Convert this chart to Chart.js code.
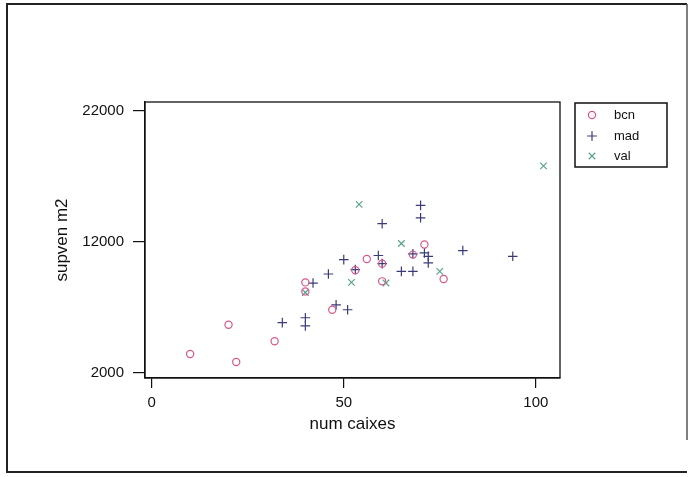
<!DOCTYPE html>
<html>
<head>
<meta charset="utf-8">
<script src="https://cdn.jsdelivr.net/npm/chart.js@4"></script>
<style>
  html, body { margin: 0; padding: 0; background: #fff; }
  #wrap { width: 693px; height: 477px; }
</style>
</head>
<body>
<div id="wrap"><canvas id="c" width="693" height="477"></canvas></div>
<script>
// ---- data ----
const seriesNames = ['bcn', 'mad', 'val'];
const bcnX = [10, 20, 22, 32, 40, 40, 47, 53, 56, 60, 60, 68, 71, 76];
const bcnY = [3450, 5680, 2840, 4430, 8920, 8230, 6830, 9840, 10710, 10350, 9000, 11040, 11810, 9180];
const madX = [34, 40, 40, 42, 46, 48, 50, 51, 53, 59, 60, 60, 65, 68, 68, 70, 70, 71, 72, 72, 81, 94];
const madY = [5850, 6220, 5600, 8870, 9560, 7210, 10660, 6830, 9900, 10970, 13400, 10350, 9760, 9760, 11100, 14800, 13850, 11170, 10910, 10410, 11350, 10910];
const valX = [40, 52, 54, 61, 65, 75, 102];
const valY = [8150, 8920, 14870, 8870, 11890, 9760, 17810];
const xTicks = [0, 50, 100];
const yTicks = [2000, 12000, 22000];
const xTitle = 'num caixes';
const yTitle = 'supven m2';

const colors = ['#d4588c', '#3b3b7a', '#5aa58a'];
const styles = ['circle', 'cross', 'crossRot'];
const radii = [3.6, 4.8, 4.6];

function pts(xs, ys) { return xs.map((x, i) => ({ x: x, y: ys[i] })); }
const allData = [pts(bcnX, bcnY), pts(madX, madY), pts(valX, valY)];

const datasets = seriesNames.map((n, i) => ({
  label: n,
  data: allData[i],
  pointStyle: styles[i],
  pointRadius: radii[i],
  pointHoverRadius: radii[i],
  borderColor: colors[i],
  backgroundColor: 'rgba(0,0,0,0)',
  pointBorderWidth: 1.2,
  showLine: false
}));

const FONT = '"Liberation Sans", Arial, sans-serif';

const framePlugin = {
  id: 'frame',
  beforeDraw(chart) {
    const ctx = chart.ctx;
    ctx.save();
    ctx.fillStyle = '#fff';
    ctx.fillRect(0, 0, chart.width, chart.height);
    ctx.strokeStyle = '#222';
    ctx.lineWidth = 2;
    ctx.beginPath();
    ctx.moveTo(687, 4); ctx.lineTo(7, 4); ctx.lineTo(7, 472); ctx.lineTo(687, 472);
    ctx.stroke();
    ctx.strokeStyle = '#555';
    ctx.lineWidth = 1.5;
    ctx.beginPath();
    ctx.moveTo(687, 4); ctx.lineTo(687, 440);
    ctx.stroke();
    ctx.restore();
  },
  afterDatasetsDraw(chart) {
    const ctx = chart.ctx;
    const a = chart.chartArea;
    ctx.save();
    ctx.strokeStyle = '#111';
    ctx.lineWidth = 1.3;
    ctx.strokeRect(a.left, a.top, a.right - a.left, a.bottom - a.top);
    // legend box
    const lx = 575, ly = 103, lw = 92, lh = 64;
    ctx.strokeStyle = '#111';
    ctx.lineWidth = 1.5;
    ctx.strokeRect(lx, ly, lw, lh);
    ctx.font = '13px ' + FONT;
    ctx.textBaseline = 'middle';
    ctx.textAlign = 'left';
    const rows = [115, 136, 156];
    chart.data.datasets.forEach((ds, i) => {
      ctx.strokeStyle = ds.borderColor;
      ctx.fillStyle = 'rgba(0,0,0,0)';
      ctx.lineWidth = 1.2;
      Chart.helpers.drawPoint(ctx, {
        pointStyle: ds.pointStyle,
        radius: ds.pointRadius,
        borderWidth: 1.2,
        rotation: 0
      }, 592, rows[i]);
      ctx.fillStyle = '#111';
      ctx.fillText(ds.label, 614, rows[i]);
    });
    ctx.restore();
  }
};

new Chart(document.getElementById('c'), {
  type: 'scatter',
  data: { datasets: datasets },
  options: {
    responsive: false,
    animation: false,
    events: [],
    layout: { padding: { left: 50, top: 102, right: 133, bottom: 0 } },
    plugins: { legend: { display: false }, tooltip: { enabled: false } },
    scales: {
      x: {
        type: 'linear',
        min: -1.75,
        max: 106.3,
        afterBuildTicks(axis) { axis.ticks = xTicks.map(v => ({ value: v })); },
        afterFit(axis) { axis.height = 99; },
        grid: { drawOnChartArea: false, drawTicks: true, tickLength: 10, color: '#111', lineWidth: 1.2 },
        border: { display: true, color: '#111', width: 1.3 },
        ticks: { color: '#111', font: { family: FONT, size: 15 }, padding: 6, maxRotation: 0, autoSkip: false,
                 callback: v => String(v) },
        title: { display: true, text: xTitle, color: '#111', font: { family: FONT, size: 17 }, padding: { top: 0, bottom: 42 } }
      },
      y: {
        type: 'linear',
        min: 1620,
        max: 22690,
        afterBuildTicks(axis) { axis.ticks = yTicks.map(v => ({ value: v })); },
        afterFit(axis) { axis.width = 95; },
        grid: { drawOnChartArea: false, drawTicks: true, tickLength: 12, color: '#111', lineWidth: 1.2 },
        border: { display: true, color: '#111', width: 1.3 },
        ticks: { color: '#111', font: { family: FONT, size: 15 }, padding: 9, autoSkip: false,
                 callback: v => String(v) },
        title: { display: true, text: yTitle, color: '#111', font: { family: FONT, size: 17 }, padding: { top: 2, bottom: 0 } }
      }
    }
  },
  plugins: [framePlugin]
});
</script>
</body>
</html>
